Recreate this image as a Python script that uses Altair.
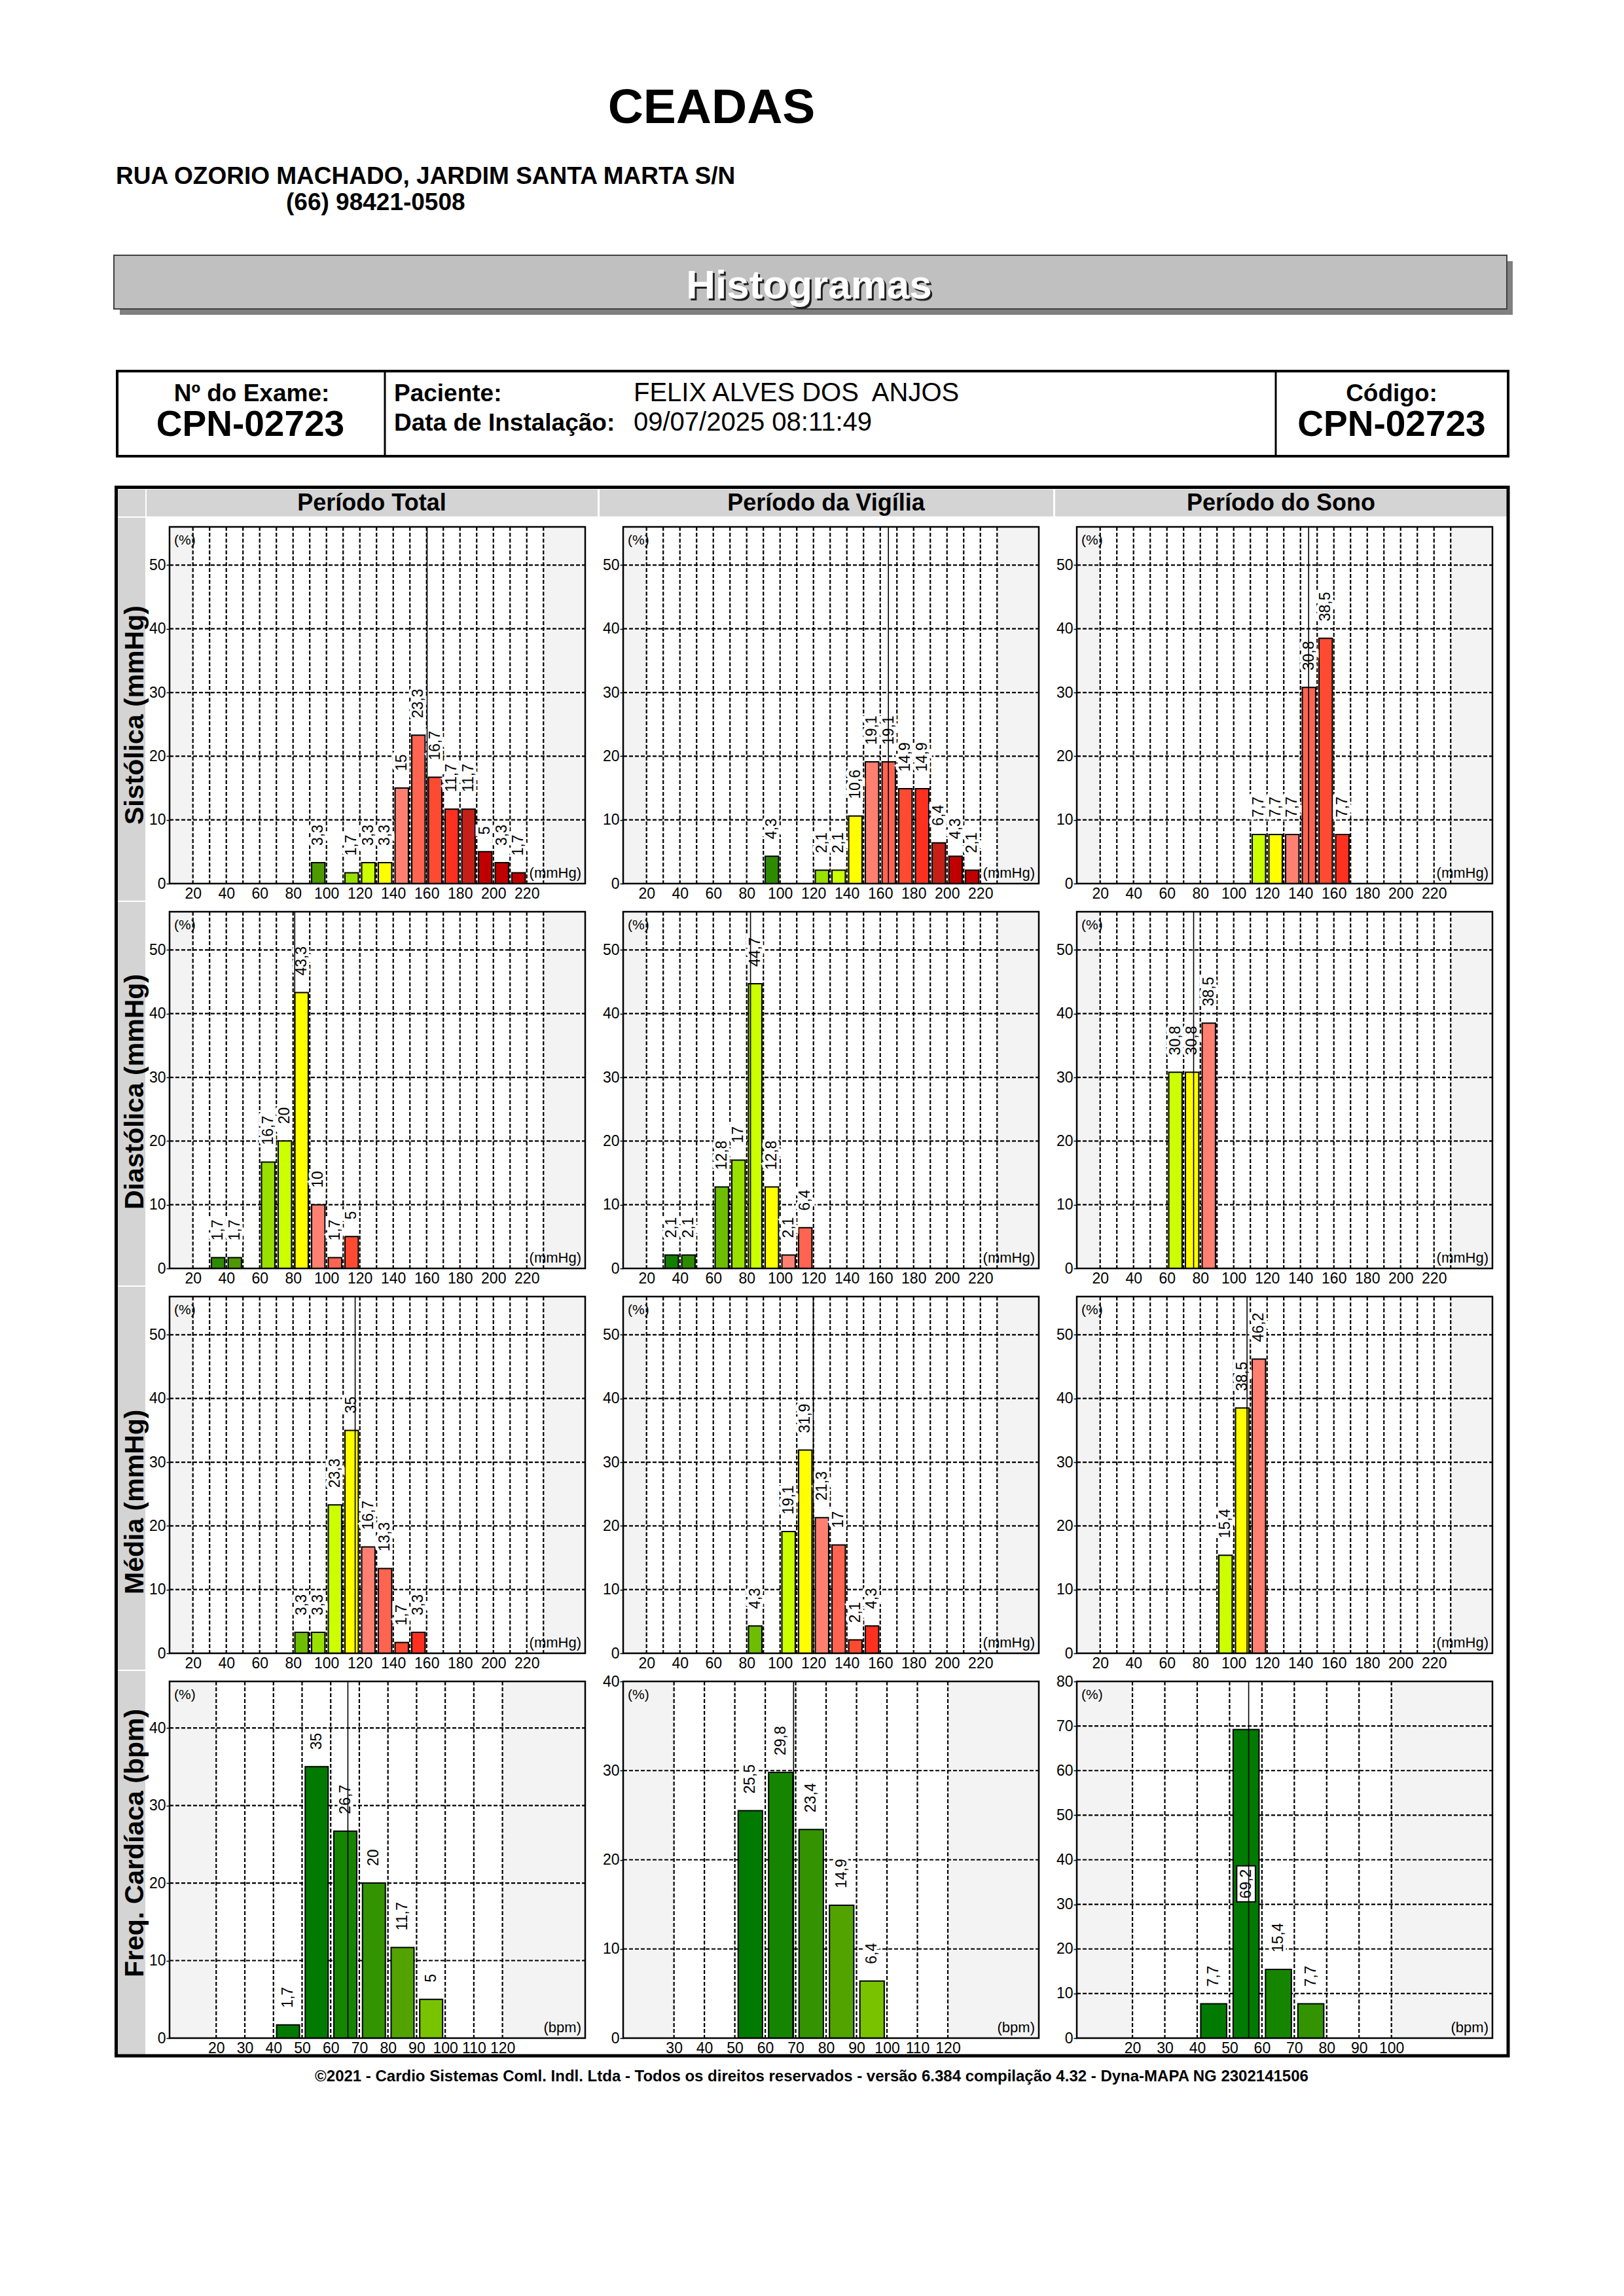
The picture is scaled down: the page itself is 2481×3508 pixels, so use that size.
import altair as alt
import pandas as pd

FONT = "Liberation Sans"

# ------------------------------------------------------------------ data
# bins are the lower edge of each 10-unit class, values are percentages
sis_total_bins = [90, 110, 120, 130, 140, 150, 160, 170, 180, 190, 200, 210]
sis_total_pct = [3.3, 1.7, 3.3, 3.3, 15, 23.3, 16.7, 11.7, 11.7, 5, 3.3, 1.7]
sis_vig_bins = [90, 120, 130, 140, 150, 160, 170, 180, 190, 200, 210]
sis_vig_pct = [4.3, 2.1, 2.1, 10.6, 19.1, 19.1, 14.9, 14.9, 6.4, 4.3, 2.1]
sis_sono_bins = [110, 120, 130, 140, 150, 160]
sis_sono_pct = [7.7, 7.7, 7.7, 30.8, 38.5, 7.7]

dia_total_bins = [30, 40, 60, 70, 80, 90, 100, 110]
dia_total_pct = [1.7, 1.7, 16.7, 20, 43.3, 10, 1.7, 5]
dia_vig_bins = [30, 40, 60, 70, 80, 90, 100, 110]
dia_vig_pct = [2.1, 2.1, 12.8, 17, 44.7, 12.8, 2.1, 6.4]
dia_sono_bins = [60, 70, 80]
dia_sono_pct = [30.8, 30.8, 38.5]

med_total_bins = [80, 90, 100, 110, 120, 130, 140, 150]
med_total_pct = [3.3, 3.3, 23.3, 35, 16.7, 13.3, 1.7, 3.3]
med_vig_bins = [80, 100, 110, 120, 130, 140, 150]
med_vig_pct = [4.3, 19.1, 31.9, 21.3, 17, 2.1, 4.3]
med_sono_bins = [90, 100, 110]
med_sono_pct = [15.4, 38.5, 46.2]

fc_total_bins = [40, 50, 60, 70, 80, 90]
fc_total_pct = [1.7, 35, 26.7, 20, 11.7, 5]
fc_vig_bins = [50, 60, 70, 80, 90]
fc_vig_pct = [25.5, 29.8, 23.4, 14.9, 6.4]
fc_sono_bins = [40, 50, 60, 70]
fc_sono_pct = [7.7, 69.2, 15.4, 7.7]

# mean of each distribution (vertical line)
means = {
    ("sis", "total"): 160.3, ("sis", "vig"): 164.9, ("sis", "sono"): 144.9,
    ("dia", "total"): 81.0, ("dia", "vig"): 82.3, ("dia", "sono"): 76.0,
    ("med", "total"): 117.2, ("med", "vig"): 119.9, ("med", "sono"): 108.0,
    ("fc", "total"): 66.0, ("fc", "vig"): 69.3, ("fc", "sono"): 55.9,
}
# class (bin) that is drawn in yellow for each pressure panel
ref_bins = {
    ("sis", "total"): 130, ("sis", "vig"): 140, ("sis", "sono"): 120,
    ("dia", "total"): 80, ("dia", "vig"): 90, ("dia", "sono"): 70,
    ("med", "total"): 110, ("med", "vig"): 110, ("med", "sono"): 100,
}

bp_x_labels = list(range(20, 221, 20))
bp_x_grid = list(range(20, 231, 10))
bp_y_labels = [0, 10, 20, 30, 40, 50]
fc_total_x_labels = list(range(20, 121, 10))
fc_vig_x_labels = list(range(30, 121, 10))
fc_sono_x_labels = list(range(20, 101, 10))
fc_total_y_labels = [0, 10, 20, 30, 40]
fc_vig_y_labels = [0, 10, 20, 30, 40]
fc_sono_y_labels = [0, 10, 20, 30, 40, 50, 60, 70, 80]

# ------------------------------------------------------------------ styles
RAMP = {-6: "#137F00", -5: "#2E8B00", -4: "#4C9A00", -3: "#6EBE00", -2: "#99E000",
        -1: "#CCFF00", 0: "#FFFF00", 1: "#FF8070", 2: "#FF6450", 3: "#FF4A32",
        4: "#FF3020", 5: "#C42018", 6: "#C00000"}
FC_COLORS = {40: "#007A00", 50: "#007A00", 60: "#158500", 70: "#339300",
             80: "#52A300", 90: "#78C200", 100: "#99E000"}

W, H = 635, 545
ONE = pd.DataFrame({"k": [0]})
DASH = [6, 3]
NOVIEW = alt.ViewBackground(stroke="transparent", strokeWidth=0, strokeOpacity=0)


def bp_color(b, ref):
    d = (b - ref) // 10
    d = max(-6, min(6, d))
    return RAMP[d]


def tlen(s):
    return sum(6.4 if c == "," else 12.8 for c in s)


def panel(bins, pct, colors, mean, xdom, ydom, xlabels, xgrid, ylabels, unit):
    xs = alt.Scale(domain=xdom, nice=False, zero=False)
    ys = alt.Scale(domain=ydom, nice=False, zero=False)
    df = pd.DataFrame({
        "lo": [b + 1.1 for b in bins],
        "hi": [b + 9.1 for b in bins],
        "mid": [b + 5.1 for b in bins],
        "pct": pct,
        "base": [0] * len(bins),
        "color": colors,
    })
    df["label"] = [f"{v:g}".replace(".", ",") for v in pct]
    ppu = H / ydom[1]
    df["inside"] = [v + (26 + tlen(l)) / ppu > ydom[1] * 0.97 for v, l in zip(df.pct, df.label)]
    df["half"] = df.pct / 2
    above = df[~df.inside]
    inner = df[df.inside]
    hgrid = [v for v in ylabels if 0 < v < ydom[1]]

    xaxis = alt.Axis(values=xlabels, title=None, grid=False, domain=False, ticks=False,
                     labelPadding=4, labelFontSize=23, labelFont=FONT, labelColor="black",
                     labelFlush=False, labelOverlap=False, format="d")
    yaxis = alt.Axis(values=ylabels, title=None, grid=False, domain=False, ticks=True,
                     tickSize=5, tickColor="black", tickWidth=1.5, labelPadding=1,
                     labelFontSize=23, labelFont=FONT, labelColor="black",
                     labelFlush=False, labelOverlap=False, format="d")

    def X(f):
        return alt.X(f, scale=xs, axis=xaxis)

    def Y(f):
        return alt.Y(f, scale=ys, axis=yaxis)

    layers = []
    layers.append(alt.Chart(ONE).mark_rect(fill="#F3F3F3").encode(
        x=alt.value(0), x2=alt.value("width"), y=alt.value(0), y2=alt.value("height")))
    layers.append(alt.Chart(pd.DataFrame({"a": [xgrid[0]], "b": [xgrid[-1]]})).mark_rect(fill="white").encode(
        x=X("a:Q"), x2="b:Q", y=alt.value(0), y2=alt.value("height")))
    layers.append(alt.Chart(pd.DataFrame({"g": xgrid})).mark_rule(
        color="black", strokeDash=DASH, strokeWidth=2.2).encode(
        x=X("g:Q"), y=alt.value(0), y2=alt.value("height")))
    layers.append(alt.Chart(pd.DataFrame({"g": hgrid})).mark_rule(
        color="black", strokeDash=DASH, strokeWidth=2.2).encode(
        y=Y("g:Q"), x=alt.value(0), x2=alt.value("width")))
    layers.append(alt.Chart(df).mark_rect(stroke="black", strokeWidth=2).encode(
        x=X("lo:Q"), x2="hi:Q",
        y=Y("pct:Q"), y2="base:Q",
        color=alt.Color("color:N", scale=None)))
    if len(inner):
        layers.append(alt.Chart(inner).mark_point(
            shape="M -0.52 -1 L 0.52 -1 L 0.52 1 L -0.52 1 Z", size=3025, filled=True,
            fill="white", stroke="black", strokeWidth=2, opacity=1).encode(
            x=X("mid:Q"), y=Y("half:Q")))
    if len(above):
        layers.append(alt.Chart(above).mark_text(
            angle=270, align="left", baseline="middle", dx=26, fontSize=23, font=FONT,
            color="white", stroke="white", strokeWidth=9).encode(
            x=X("mid:Q"), y=Y("pct:Q"), text="label:N"))
    layers.append(alt.Chart(pd.DataFrame({"m": [mean]})).mark_rule(color="black", strokeWidth=1.6).encode(
        x=X("m:Q"), y=alt.value(0), y2=alt.value("height")))
    if len(above):
        layers.append(alt.Chart(above).mark_text(
            angle=270, align="left", baseline="middle", dx=26, fontSize=23, font=FONT,
            color="black").encode(
            x=X("mid:Q"), y=Y("pct:Q"), text="label:N"))
    if len(inner):
        layers.append(alt.Chart(inner).mark_text(
            angle=270, align="center", baseline="middle", fontSize=23, font=FONT,
            color="black").encode(
            x=X("mid:Q"), y=Y("half:Q"), text="label:N"))
    layers.append(alt.Chart(ONE).mark_text(text="(%)", align="left", baseline="top",
                                           fontSize=21, font=FONT, color="black").encode(
        x=alt.value(7), y=alt.value(10)))
    layers.append(alt.Chart(ONE).mark_text(text=unit, align="right", baseline="alphabetic",
                                           fontSize=22, font=FONT, color="black").encode(
        x=alt.value(W - 6), y=alt.value(H - 9)))
    layers.append(alt.Chart(ONE).mark_rect(fill="transparent", stroke="black", strokeWidth=2.5).encode(
        x=alt.value(0), x2=alt.value("width"), y=alt.value(0), y2=alt.value("height")))
    return alt.layer(*layers).properties(width=W, height=H, view=NOVIEW)


def bp_panel(kind, period, bins, pct):
    cols = [bp_color(b, ref_bins[(kind, period)]) for b in bins]
    return panel(bins, pct, cols, means[(kind, period)], [6, 255], [0, 56],
                 bp_x_labels, bp_x_grid, bp_y_labels, "(mmHg)")


def fc_panel(period, bins, pct, xdom, ydom, xlabels, ylabels):
    cols = [FC_COLORS[b] for b in bins]
    return panel(bins, pct, cols, means[("fc", period)], xdom, ydom,
                 xlabels, xlabels, ylabels, "(bpm)")


rows = [
    [bp_panel("sis", "total", sis_total_bins, sis_total_pct),
     bp_panel("sis", "vig", sis_vig_bins, sis_vig_pct),
     bp_panel("sis", "sono", sis_sono_bins, sis_sono_pct)],
    [bp_panel("dia", "total", dia_total_bins, dia_total_pct),
     bp_panel("dia", "vig", dia_vig_bins, dia_vig_pct),
     bp_panel("dia", "sono", dia_sono_bins, dia_sono_pct)],
    [bp_panel("med", "total", med_total_bins, med_total_pct),
     bp_panel("med", "vig", med_vig_bins, med_vig_pct),
     bp_panel("med", "sono", med_sono_bins, med_sono_pct)],
    [fc_panel("total", fc_total_bins, fc_total_pct, [3.7, 148.9], [0, 46], fc_total_x_labels, fc_total_y_labels),
     fc_panel("vig", fc_vig_bins, fc_vig_pct, [13.3, 149.9], [0, 40], fc_vig_x_labels, fc_vig_y_labels),
     fc_panel("sono", fc_sono_bins, fc_sono_pct, [2.8, 131.2], [0, 80], fc_sono_x_labels, fc_sono_y_labels)],
]


# ------------------------------------------------------------------ page decorations
def txt(x, y, s, size, bold=False, align="left", color="black", angle=None, baseline="alphabetic"):
    kw = dict(text=s, align=align, baseline=baseline, fontSize=size, font=FONT,
              fontWeight="bold" if bold else "normal", color=color)
    if angle is not None:
        kw["angle"] = angle
    return alt.Chart(ONE).mark_text(**kw).encode(x=alt.value(x), y=alt.value(y))


def box(x1, y1, x2, y2, fill="transparent", stroke=None, sw=0):
    kw = dict(fill=fill)
    if stroke:
        kw["stroke"] = stroke
        kw["strokeWidth"] = sw
    return alt.Chart(ONE).mark_rect(**kw).encode(
        x=alt.value(x1), x2=alt.value(x2), y=alt.value(y1), y2=alt.value(y2))


def vline(x, y1, y2, sw, color="black"):
    return alt.Chart(ONE).mark_rule(color=color, strokeWidth=sw).encode(
        x=alt.value(x), y=alt.value(y1), y2=alt.value(y2))


GRAY = "#D4D4D4"
deco = [
    box(0, 0, 4, 4, fill="white"),  # anchors the page origin
    txt(1079, 180, "CEADAS", 75, bold=True, align="center"),
    txt(169, 273, "RUA OZORIO MACHADO, JARDIM SANTA MARTA S/N", 37, bold=True),
    txt(429, 313, "(66) 98421-0508", 37, bold=True),
    box(175, 391, 2303, 473, fill="#808080"),
    box(166, 382, 2294, 464, fill="#C0C0C0", stroke="#404040", sw=2),
    txt(1231, 451, "Histogramas", 62, bold=True, align="center", color="#202020"),
    txt(1228, 448, "Histogramas", 62, bold=True, align="center", color="white"),
    box(171, 559, 2296, 689, stroke="black", sw=4),
    vline(580, 559, 689, 3),
    vline(1941, 559, 689, 3),
    txt(376.5, 605, "Nº do Exame:", 37, bold=True, align="center"),
    txt(374.5, 658, "CPN-02723", 55, bold=True, align="center"),
    txt(594, 605, "Paciente:", 37, bold=True),
    txt(960, 605, "FELIX ALVES DOS\u00a0 ANJOS", 40),
    txt(594, 650, "Data de Instalação:", 37, bold=True),
    txt(960, 650, "09/07/2025 08:11:49", 40),
    txt(2118, 605, "Código:", 37, bold=True, align="center"),
    txt(2118, 658, "CPN-02723", 55, bold=True, align="center"),
    # grid frame
    box(172, 740, 214, 781, fill=GRAY),
    box(216, 740, 905, 781, fill=GRAY),
    box(908, 740, 1601, 781, fill=GRAY),
    box(1604, 740, 2294, 781, fill=GRAY),
    box(172, 783, 214, 1368, fill=GRAY),
    box(172, 1370, 214, 1956, fill=GRAY),
    box(172, 1958, 214, 2543, fill=GRAY),
    box(172, 2545, 214, 3131, fill=GRAY),
    box(169.5, 736.5, 2296, 3133, stroke="black", sw=5),
    txt(560, 771.5, "Período Total", 36, bold=True, align="center"),
    txt(1254, 771.5, "Período da Vigília", 36, bold=True, align="center"),
    txt(1949, 771.5, "Período do Sono", 36, bold=True, align="center"),
    txt(210.5, 1252, "Sistólica (mmHg)", 41, bold=True, angle=270),
    txt(210.5, 1840, "Diastólica (mmHg)", 41, bold=True, angle=270),
    txt(210.5, 2428, "Média (mmHg)", 41, bold=True, angle=270),
    txt(210.5, 3013, "Freq. Cardíaca (bpm)", 41, bold=True, angle=270),
    txt(1232, 3172, "©2021 - Cardio Sistemas Coml. Indl. Ltda - Todos os direitos reservados - "
                    "versão 6.384 compilação 4.32 - Dyna-MAPA NG 2302141506", 24, bold=True, align="center"),
]
bg = alt.layer(*deco).properties(width=2300, height=797, view=NOVIEW)


def spacer():
    return alt.Chart(ONE).mark_text(text="").encode(
        x=alt.value(0), y=alt.value(0)).properties(width=193, height=H, view=NOVIEW)


cells = []
for r in rows:
    cells.append(spacer())
    cells.extend(r)

grid = alt.concat(*cells, columns=4, spacing=alt.RowColnumber(row=43, column=58), bounds="flush")

chart = alt.vconcat(bg, grid, spacing=0, bounds="flush").properties(
    padding=0
).configure_view(stroke="transparent", strokeWidth=0).configure(font=FONT)

chart.save("out.html", embed_options={"renderer": "svg", "actions": False})
